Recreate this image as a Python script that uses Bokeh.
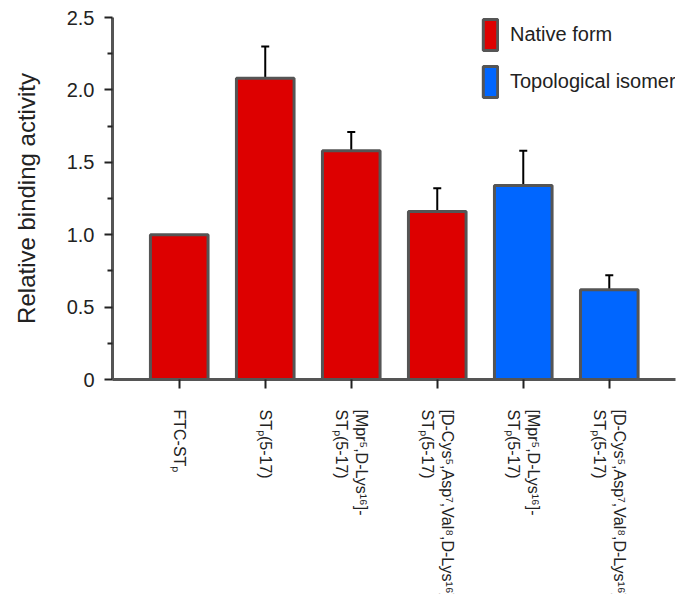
import math
from bokeh.plotting import figure
from bokeh.layouts import column
from bokeh.models import (Range1d, FixedTicker, Whisker, TeeHead, ColumnDataSource,
                          Legend, LegendItem)
from bokeh.core.properties import value
from bokeh.embed import file_html
from bokeh.resources import INLINE

# ---- data ----
category_labels = [
    "FTC-ST\u209a",
    "ST\u209a(5-17)",
    "[Mpr\u2075,D-Lys\u00b9\u2076]-\nST\u209a(5-17)",
    "[D-Cys\u2075,Asp\u2077,Val\u2078,D-Lys\u00b9\u2076]-\nST\u209a(5-17)",
    "[Mpr\u2075,D-Lys\u00b9\u2076]-\nST\u209a(5-17)",
    "[D-Cys\u2075,Asp\u2077,Val\u2078,D-Lys\u00b9\u2076]-\nST\u209a(5-17)",
]
values = [1.00, 2.08, 1.58, 1.16, 1.34, 0.62]
errors = [0.00, 0.22, 0.13, 0.16, 0.24, 0.10]
groups = ["Native form", "Native form", "Native form", "Native form",
          "Topological isomer", "Topological isomer"]
y_ticks = [0, 0.5, 1.0, 1.5, 2.0, 2.5]
y_tick_labels = ["0", "0.5", "1.0", "1.5", "2.0", "2.5"]
y_minor = [0.25, 0.75, 1.25, 1.75, 2.25]

group_colors = {"Native form": "#DD0000", "Topological isomer": "#0066FF"}
FONT = "Liberation Sans"

xs = list(range(len(values)))

p = figure(width=680, height=391, output_backend="svg", toolbar_location=None,
           x_range=Range1d(-0.776, 5.77), y_range=Range1d(0, 2.5),
           min_border_left=112, min_border_right=5, min_border_top=17,
           min_border_bottom=12)
p.outline_line_color = None
p.xgrid.visible = False
p.ygrid.visible = False

renderers = {}
for g in ["Native form", "Topological isomer"]:
    idx = [i for i in xs if groups[i] == g]
    src = ColumnDataSource(dict(x=[xs[i] for i in idx], top=[values[i] for i in idx]))
    r = p.vbar(x="x", top="top", width=0.67, bottom=0, source=src,
               fill_color=group_colors[g], line_color="#555555", line_width=3)
    renderers[g] = r

# error bars (upper only)
esrc = ColumnDataSource(dict(x=[xs[i] for i in xs if errors[i] > 0],
                             lo=[values[i] for i in xs if errors[i] > 0],
                             hi=[values[i] + errors[i] for i in xs if errors[i] > 0]))
w = Whisker(base="x", lower="lo", upper="hi", source=esrc, dimension="height",
            line_color="black", line_width=2, lower_head=None,
            upper_head=TeeHead(size=8, line_color="black", line_width=2))
p.add_layout(w)

# y axis
ya = p.yaxis[0]
ya.ticker = FixedTicker(ticks=y_ticks, minor_ticks=y_minor)
ya.major_label_overrides = {t: s for t, s in zip(y_ticks, y_tick_labels)}
ya.axis_line_color = "#555555"
ya.axis_line_width = 3
ya.major_tick_line_color = "#222222"
ya.major_tick_line_width = 2
ya.major_tick_out = 8
ya.major_tick_in = 0
ya.minor_tick_line_color = "#222222"
ya.minor_tick_line_width = 2
ya.minor_tick_out = 5
ya.minor_tick_in = 0
ya.major_label_text_font = FONT
ya.major_label_text_font_size = "20px"
ya.major_label_text_color = "#222222"
ya.major_label_standoff = 10
ya.axis_label = "Relative binding activity"
ya.axis_label_text_font = FONT
ya.axis_label_text_font_size = "24px"
ya.axis_label_text_font_style = "normal"
ya.axis_label_text_color = "#222222"
ya.axis_label_standoff = 24

# x axis (ticks only, labels drawn in the panel below)
xa = p.xaxis[0]
xa.ticker = FixedTicker(ticks=xs, minor_ticks=[])
xa.major_label_overrides = {i: "" for i in xs}
xa.major_label_text_font_size = "1px"
xa.major_label_standoff = 0
xa.axis_line_color = "#555555"
xa.axis_line_width = 3
xa.major_tick_line_color = "#222222"
xa.major_tick_line_width = 2
xa.major_tick_out = 9
xa.major_tick_in = 0
xa.minor_tick_line_color = None

legend = Legend(items=[LegendItem(label=g, renderers=[renderers[g]])
                       for g in ["Native form", "Topological isomer"]],
                location=(369, 278), padding=0, margin=0, spacing=8,
                glyph_width=18, glyph_height=39, label_standoff=11,
                label_text_font=FONT, label_text_font_size="20px",
                label_text_color="#222222", border_line_color=None,
                background_fill_alpha=0)
p.add_layout(legend)

# panel with rotated category labels, sharing the x range
q = figure(width=680, height=203, output_backend="svg", toolbar_location=None,
           x_range=p.x_range, y_range=Range1d(0, 1),
           x_axis_type=None, y_axis_type=None,
           min_border_left=112, min_border_right=5, min_border_top=0,
           min_border_bottom=0)
q.outline_line_color = None
q.xgrid.visible = False
q.ygrid.visible = False
lsrc = ColumnDataSource(dict(x=xs, y=[1] * len(xs), t=category_labels))
q.text(x="x", y="y", text="t", source=lsrc, angle=-math.pi / 2,
       y_offset=18, text_align="left", text_baseline="middle",
       text_font=value(FONT), text_font_size="16px", text_color="#222222",
       text_line_height=1.2)

layout = column(p, q, spacing=0)
open("out.html", "w").write(file_html(layout, INLINE))
